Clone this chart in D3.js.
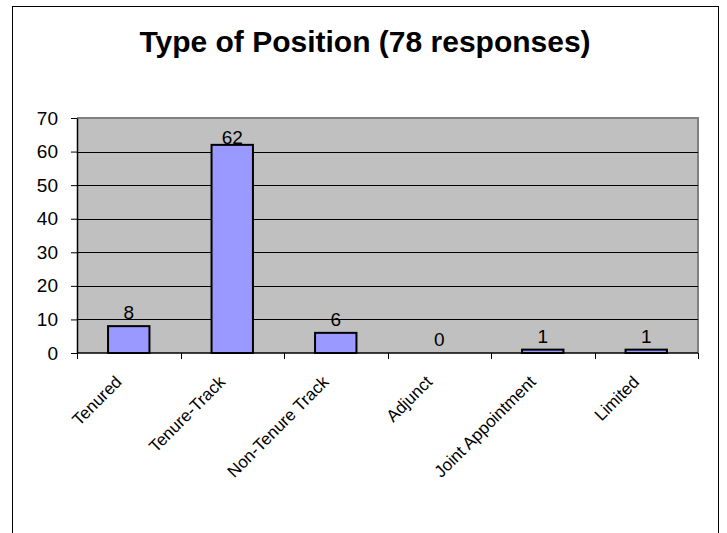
<!DOCTYPE html>
<html>
<head>
<meta charset="utf-8">
<script src="https://cdn.jsdelivr.net/npm/d3@7"></script>
<style>
  body { margin: 0; background: #fff; }
  text { font-family: "Liberation Sans", Arial, sans-serif; }
</style>
</head>
<body>
<div class="container"></div>
<script>
const categories = ['Tenured', 'Tenure-Track', 'Non-Tenure Track', 'Adjunct', 'Joint Appointment', 'Limited'];
const counts = [8, 62, 6, 0, 1, 1];
const yTicks = [0, 10, 20, 30, 40, 50, 60, 70];
const title = 'Type of Position (78 responses)';

const width = 727, height = 533;
// plot area
const plotL = 77, plotT = 118, plotR = 698, plotB = 353;

let svg = d3.select(".container").append("svg")
  .attr("width", width)
  .attr("height", height);

// chart frame (runs off the bottom)
svg.append("rect")
  .attr("x", 12.5).attr("y", 6.5)
  .attr("width", 706).attr("height", 560)
  .attr("fill", "#fff")
  .attr("stroke", "#000")
  .attr("stroke-width", 1);

svg.append("text")
  .attr("x", 365).attr("y", 52)
  .attr("text-anchor", "middle")
  .style("font-size", "30px")
  .style("font-weight", "bold")
  .text(title);

const x = d3.scaleBand().domain(categories).range([plotL, plotR]).paddingInner(0).paddingOuter(0);
const y = d3.scaleLinear().domain([0, 70]).range([plotB, plotT]);

// gray plot background
svg.append("rect")
  .attr("x", plotL).attr("y", plotT)
  .attr("width", plotR - plotL).attr("height", plotB - plotT)
  .attr("fill", "#c0c0c0");

// gray border on top and right
svg.append("path")
  .attr("d", `M${plotL},${plotT}H${plotR}V${plotB}`)
  .attr("fill", "none")
  .attr("stroke", "#808080")
  .attr("stroke-width", 2);

// gridlines
svg.append("g")
  .selectAll("line")
  .data(yTicks.filter(d => d > 0 && d < 70))
  .enter()
  .append("line")
  .attr("x1", plotL).attr("x2", plotR)
  .attr("y1", d => Math.round(y(d)) + 0.5)
  .attr("y2", d => Math.round(y(d)) + 0.5)
  .attr("stroke", "#000")
  .attr("stroke-width", 1);

// bars
const barW = x.bandwidth() / 2.5;
svg.append("g")
  .selectAll("rect")
  .data(categories)
  .enter()
  .append("rect")
  .attr("x", d => x(d) + x.bandwidth() / 2 - barW / 2)
  .attr("y", (d, i) => y(counts[i]))
  .attr("width", barW)
  .attr("height", (d, i) => y(0) - y(counts[i]))
  .attr("fill", "#9999ff")
  .attr("stroke", "#000")
  .attr("stroke-width", 2)
  .style("display", (d, i) => counts[i] === 0 ? "none" : null);

// value labels
svg.append("g")
  .selectAll("text")
  .data(categories)
  .enter()
  .append("text")
  .attr("x", d => x(d) + x.bandwidth() / 2)
  .attr("y", (d, i) => y(counts[i]) - (counts[i] > 50 ? 1 : 7))
  .attr("text-anchor", "middle")
  .style("font-size", "19px")
  .text((d, i) => counts[i]);

// y axis
const yAxis = svg.append("g")
  .attr("transform", `translate(${plotL},0)`)
  .call(d3.axisLeft(y).tickValues(yTicks).tickSize(6).tickPadding(13).tickSizeOuter(0));
yAxis.select(".domain").attr("stroke", "#000").attr("stroke-width", 1.5);
yAxis.selectAll("text").style("font-size", "19px").attr("fill", "#000")
  .style("font-family", '"Liberation Sans", Arial, sans-serif');

// x axis: tick marks on category boundaries
const xAxis = svg.append("g")
  .attr("transform", `translate(0,${plotB})`);
xAxis.append("line")
  .attr("x1", plotL).attr("x2", plotR)
  .attr("y1", 0).attr("y2", 0)
  .attr("stroke", "#000").attr("stroke-width", 1.5);
xAxis.selectAll("line.tick")
  .data(categories.concat(["end"]))
  .enter()
  .append("line")
  .attr("class", "tick")
  .attr("x1", (d, i) => Math.round(plotL + i * x.step()) + 0.5)
  .attr("x2", (d, i) => Math.round(plotL + i * x.step()) + 0.5)
  .attr("y1", 0).attr("y2", 6)
  .attr("stroke", "#000");

xAxis.selectAll("text")
  .data(categories)
  .enter()
  .append("text")
  .attr("transform", d => `translate(${x(d) + x.bandwidth() / 2 - 6},30) rotate(-45)`)
  .attr("text-anchor", "end")
  .style("font-size", "17px")
  .text(d => d);
</script>
</body>
</html>
